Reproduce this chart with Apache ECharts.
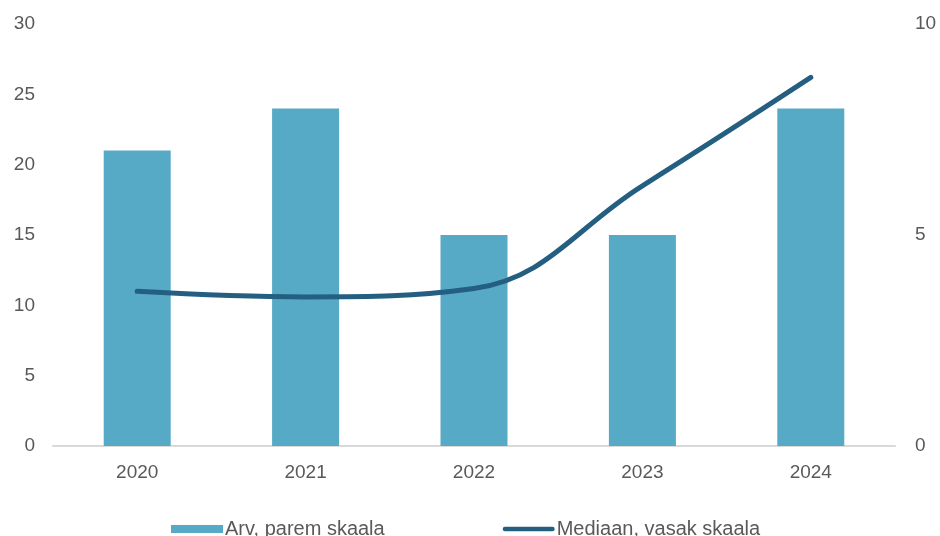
<!DOCTYPE html>
<html lang="et">
  <head>
    <meta charset="UTF-8" />
    <title>Arv ja mediaan</title>
    <script src="https://cdn.jsdelivr.net/npm/echarts@6.0.0/dist/echarts.min.js"></script>
  </head>
  <body style="margin: 0">
    <div id="main" style="width: 940px; height: 536px"></div>
    <script type="text/javascript">
      // data
      const years = ["2020", "2021", "2022", "2023", "2024"];
      const countRight = [7, 8, 5, 5, 8];
      const medianLeft = [11, 10.6, 11.2, 18.5, 26.2];

      let myChart = echarts.init(document.getElementById("main"));

      const labelStyle = {
        color: "#595959",
        fontFamily: "Liberation Sans",
        fontSize: 19,
      };

      let options = {
        animation: false,
        grid: { left: 53, right: 45, top: 24, bottom: 90 },
        legend: {
          top: 514,
          left: 166,
          itemGap: 118,
          itemWidth: 52,
          itemHeight: 10,
          textStyle: { ...labelStyle, fontSize: 20, padding: [0, 0, 0, -3] },
          data: [
            { name: "Arv, parem skaala", icon: "path://M0,0h52v8h-52z" },
            {
              name: "Mediaan, vasak skaala",
              icon: "path://M2.5,0h52a2.5,2.5 0 0 1 0,5h-52a2.5,2.5 0 0 1 0,-5z",
            },
          ],
        },
        xAxis: {
          type: "category",
          data: years,
          axisLine: { lineStyle: { color: "#d9d9d9", width: 2 } },
          axisTick: { show: false },
          axisLabel: { ...labelStyle, margin: 17 },
        },
        yAxis: [
          {
            type: "value",
            min: 0,
            max: 30,
            interval: 5,
            splitLine: { show: false },
            axisLabel: { ...labelStyle, margin: 18 },
          },
          {
            type: "value",
            min: 0,
            max: 10,
            interval: 5,
            splitLine: { show: false },
            axisLabel: { ...labelStyle, margin: 20 },
          },
        ],
        series: [
          {
            name: "Arv, parem skaala",
            type: "bar",
            yAxisIndex: 1,
            barWidth: 67,
            itemStyle: { color: "#56aac6" },
            data: countRight,
          },
          {
            name: "Mediaan, vasak skaala",
            type: "line",
            yAxisIndex: 0,
            smooth: 0.4,
            symbol: "none",
            lineStyle: { color: "#245f82", width: 5, cap: "round" },
            itemStyle: { color: "#245f82" },
            data: medianLeft,
          },
        ],
      };

      myChart.setOption(options);
    </script>
  </body>
</html>
